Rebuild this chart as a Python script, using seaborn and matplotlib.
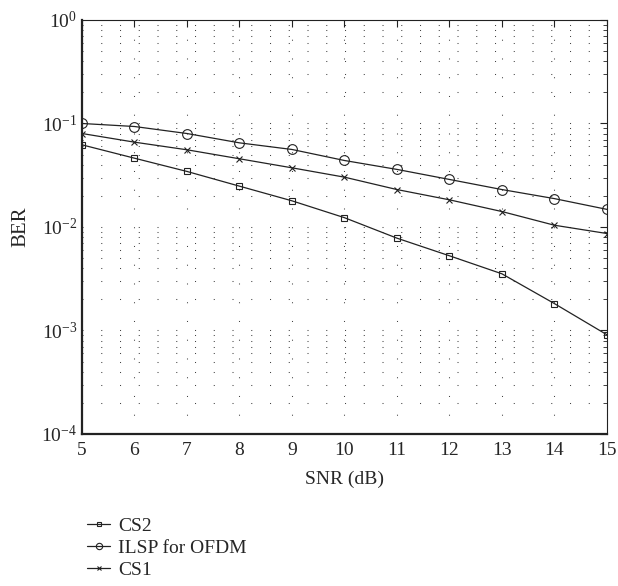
import matplotlib
matplotlib.use('Agg')
import matplotlib.pyplot as plt
import seaborn as sns
import numpy as np
from matplotlib.ticker import LogLocator, NullFormatter

snr = [5, 6, 7, 8, 9, 10, 11, 12, 13, 14, 15]
ber_cs2 = [0.0622, 0.0462, 0.0344, 0.0248, 0.0179, 0.0123, 0.0078, 0.00527, 0.00353, 0.00182, 0.00091]
ber_ilsp = [0.100, 0.0935, 0.080, 0.065, 0.0561, 0.0439, 0.0360, 0.0288, 0.0230, 0.0188, 0.0148]
ber_cs1 = [0.080, 0.066, 0.0557, 0.0456, 0.0373, 0.0303, 0.0230, 0.0183, 0.0141, 0.0104, 0.00865]

series = [('CS2', ber_cs2, 's', 5), ('ILSP for OFDM', ber_ilsp, 'o', 7), ('CS1', ber_cs1, 'x', 4.5)]

sns.set_style('white')
plt.rcParams['font.family'] = ['Liberation Serif', 'DejaVu Serif']
plt.rcParams['mathtext.fontset'] = 'stix'

fig = plt.figure(figsize=(6.18, 5.86), dpi=100)
ax = fig.add_axes([0.1327, 0.2594, 0.982 - 0.1327, 0.9659 - 0.2594])

for name, vals, mk, ms in series:
    sns.lineplot(x=snr, y=vals, ax=ax, color='#222222', linewidth=0.9, marker=mk,
                 markersize=ms, mfc='none', mec='#222222', mew=0.8, label=name)

ax.set_yscale('log')
ax.set_xlim(5, 15)
ax.set_ylim(1e-4, 1)
ax.set_xticks(range(5, 16))
ax.yaxis.set_major_locator(LogLocator(base=10, numticks=10))
ax.yaxis.set_minor_locator(LogLocator(base=10, subs=np.arange(2, 10), numticks=20))
ax.yaxis.set_minor_formatter(NullFormatter())

dot = (0, (1, 17))
ax.grid(True, which='major', axis='both', color='#444444', linestyle=dot, linewidth=0.75)
ax.grid(True, which='minor', axis='y', color='#444444', linestyle=dot, linewidth=0.75)

ax.tick_params(which='both', direction='in', top=True, right=True, labelsize=14, color='#222222')
ax.tick_params(which='major', length=5, width=0.8)
ax.tick_params(which='minor', length=3, width=0.6)
ax.tick_params(axis='x', pad=6)
for sp in ax.spines.values():
    sp.set_linewidth(0.8)
    sp.set_color('#222222')
ax.spines['bottom'].set_linewidth(1.6)
ax.spines['left'].set_linewidth(1.6)

ax.set_xlabel('SNR (dB)', fontsize=14, labelpad=8)
ax.set_ylabel('BER', fontsize=15, labelpad=8)

ax.legend(loc='upper left', bbox_to_anchor=(0.128, 0.13), bbox_transform=fig.transFigure,
          frameon=False, fontsize=14, handlelength=1.2, handletextpad=0.4,
          labelspacing=0.22, borderaxespad=0, markerscale=0.65)

fig.savefig('out.png', dpi=100)
